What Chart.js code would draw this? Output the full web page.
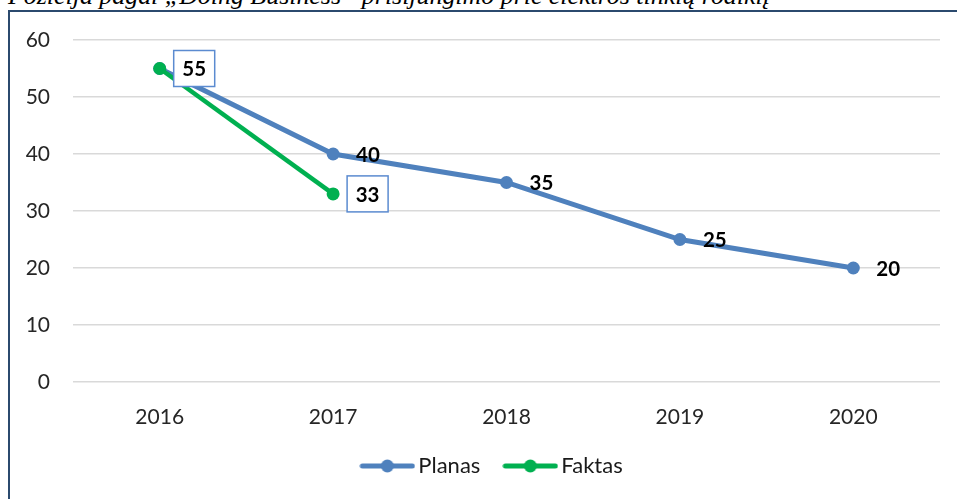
<!DOCTYPE html>
<html>
<head>
<meta charset="utf-8">
<script src="https://cdn.jsdelivr.net/npm/chart.js@4"></script>
<style>
  html, body { margin: 0; padding: 0; background: #fff; overflow: hidden; }
  #wrap { position: relative; width: 957px; height: 499px; }
  #title { position: absolute; left: 8px; top: -19px; font: italic 25.9px "Liberation Serif"; white-space: nowrap; color: #000; }
  #frame { position: absolute; left: 8px; top: 10px; width: 980px; height: 520px; border-left: 2px solid #2b4a6e; border-top: 2px solid #2b4a6e; }
  #myChart { position: absolute; left: 0; top: 0; }
</style>
</head>
<body>
<div id="wrap">
  <div id="title">Pozicija pagal „Doing Business“ prisijungimo prie elektros tinklų rodiklį</div>
  <div id="frame"></div>
  <canvas id="myChart" width="957" height="499"></canvas>
</div>
<script>
  const years = ['2016', '2017', '2018', '2019', '2020'];
  const planas = [55, 40, 35, 25, 20];
  const faktas = [55, 33, null, null, null];

  const blue = '#4f81bd';
  const green = '#00b050';

  // little line + dot marker for the legend
  function legendMark(color) {
    const c = document.createElement('canvas');
    c.width = 56; c.height = 14;
    const g = c.getContext('2d');
    g.strokeStyle = color;
    g.lineWidth = 5;
    g.lineCap = 'round';
    g.beginPath(); g.moveTo(3, 7); g.lineTo(53, 7); g.stroke();
    g.fillStyle = color;
    g.beginPath(); g.arc(28, 7, 6.5, 0, Math.PI * 2); g.fill();
    return c;
  }
  const marks = [legendMark(blue), legendMark(green)];

  // value labels: plain for Planas, boxed for Faktas
  const valueLabels = {
    id: 'valueLabels',
    afterDatasetsDraw(chart) {
      const ctx = chart.ctx;
      ctx.save();
      ctx.font = 'bold 20.5px Lato';
      ctx.fillStyle = '#000';
      ctx.textBaseline = 'middle';

      const mp = chart.getDatasetMeta(0);
      mp.data.forEach((pt, i) => {
        if (planas[i] == null) return;
        ctx.textAlign = 'left';
        ctx.fillText(planas[i], pt.x + 23, pt.y + 1);
      });

      const mf = chart.getDatasetMeta(1);
      mf.data.forEach((pt, i) => {
        if (faktas[i] == null) return;
        const bx = pt.x + 14, by = pt.y - 18, bw = 41, bh = 36;
        ctx.fillStyle = '#fff';
        ctx.fillRect(bx, by, bw, bh);
        ctx.strokeStyle = '#5b8bd0';
        ctx.lineWidth = 1.5;
        ctx.strokeRect(bx, by, bw, bh);
        ctx.fillStyle = '#000';
        ctx.textAlign = 'center';
        ctx.fillText(faktas[i], bx + bw / 2, pt.y + 1);
      });
      ctx.restore();
    }
  };

  // nudge the legend a bit right, like in the original
  const legendShift = {
    id: 'legendShift',
    afterLayout(chart) {
      if (chart.legend) chart.legend.left += 50;
    }
  };

  const ctx = document.getElementById('myChart');

  new Chart(ctx, {
    type: 'line',
    data: {
      labels: years,
      datasets: [{
        label: 'Planas',
        data: planas,
        borderColor: blue,
        backgroundColor: blue,
        borderWidth: 5,
        pointRadius: 6.5,
        pointBorderWidth: 0,
        pointBackgroundColor: blue,
        tension: 0,
        order: 1
      }, {
        label: 'Faktas',
        data: faktas,
        borderColor: green,
        backgroundColor: green,
        borderWidth: 4.5,
        pointRadius: 6.5,
        pointBorderWidth: 0,
        pointBackgroundColor: green,
        tension: 0,
        order: 0
      }]
    },
    options: {
      responsive: false,
      animation: false,
      layout: { padding: { left: 0, right: 17, top: 40, bottom: 12 } },
      plugins: {
        tooltip: { enabled: false },
        legend: {
          position: 'bottom',
          labels: {
            usePointStyle: true,
            pointStyleWidth: 40,
            color: '#1a1a1a',
            font: { family: 'Lato', size: 22 },
            padding: 30,
            sort: (a, b) => a.datasetIndex - b.datasetIndex,
            generateLabels(chart) {
              const items = Chart.defaults.plugins.legend.labels.generateLabels(chart);
              items.forEach(it => { it.pointStyle = marks[it.datasetIndex]; });
              return items;
            }
          }
        }
      },
      scales: {
        x: {
          offset: true,
          grid: { display: false },
          border: { display: false },
          ticks: { color: '#262626', font: { family: 'Lato', size: 21 }, padding: 15 },
          afterFit(s) { s.height = 43; }
        },
        y: {
          min: 0,
          max: 60,
          ticks: { stepSize: 10, color: '#262626', font: { family: 'Lato', size: 21 }, padding: 23 },
          grid: { color: '#d9d9d9', lineWidth: 1.5, drawTicks: false },
          border: { display: false },
          afterFit(s) { s.width = 73; }
        }
      }
    },
    plugins: [valueLabels, legendShift]
  });
</script>
</body>
</html>
